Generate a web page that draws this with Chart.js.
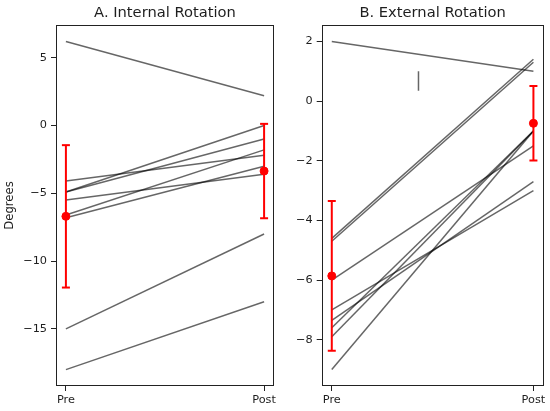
<!DOCTYPE html>
<html lang="en">
<head>
<meta charset="UTF-8">
<title>Internal / External Rotation</title>
<style>
    body { margin: 0; background: #fff; }
    .panel { position: absolute; top: 0; height: 411px; }
    #panelA { left: 0; width: 280px; }
    #panelB { left: 280px; width: 270px; }
</style>
<script src="https://cdn.jsdelivr.net/npm/chart.js"></script>
</head>
<body>
<div class="panel" id="panelA"><canvas id="chartA"></canvas></div>
<div class="panel" id="panelB"><canvas id="chartB"></canvas></div>
<script>
const xLabels = ['Pre', 'Post'];

// A. internal rotation, one value per subject
const internalPre  = [6.2, -4.1, -4.9, -4.9, -5.5, -6.6, -6.8, -15, -18];
const internalPost = [2.2, -2.2, 0.0, -1.0, -3.6, -1.8, -3.0, -8, -13];
const internalMean = [-6.7, -3.36];
const internalSd   = [5.25, 3.48];
const internalTicks = [-15, -10, -5, 0, 5];

// B. external rotation
const externalPre  = [2.0, -4.6, -4.7, -6.0, -7.0, -7.35, -7.6, -7.9, -9.0];
const externalPost = [1.0, 1.4, 1.3, -1.5, -3.0, -2.7, -1.0, -1.0, -1.0];
const externalMean = [-5.86, -0.745];
const externalSd   = [2.51, 1.25];
const externalTicks = [-8, -6, -4, -2, 0, 2];

// small stray vertical mark in panel B
const strayX = [0.43];
const strayY = [0.35, 1.0];

const tickFont = { family: 'DejaVu Sans', size: 11.3 };
const textColor = '#1e1e1e';

// full box around the plot area (matplotlib spines)
const boxPlugin = {
    id: 'box',
    afterDraw(chart) {
        const { ctx, chartArea: a } = chart;
        ctx.save();
        ctx.strokeStyle = '#222';
        ctx.lineWidth = 1;
        ctx.strokeRect(Math.round(a.left) + 0.5, Math.round(a.top) + 0.5,
                       Math.round(a.width) - 1, Math.round(a.height) - 1);
        ctx.restore();
    }
};

function buildDatasets(pre, post, mean, sd) {
    const ds = pre.map((v, i) => ({
        data: [{ x: 0, y: v }, { x: 1, y: post[i] }],
        borderColor: 'rgba(0,0,0,0.6)',
        borderWidth: 1.5,
        pointRadius: 0,
        order: 2
    }));
    mean.forEach((m, i) => {
        ds.push({
            data: [{ x: i, y: m - sd[i] }, { x: i, y: m + sd[i] }],
            borderColor: 'red',
            borderWidth: 2,
            pointStyle: 'line',
            pointRadius: 4,
            pointBorderWidth: 2,
            pointBorderColor: 'red',
            order: 1
        });
    });
    ds.push({
        data: mean.map((m, i) => ({ x: i, y: m })),
        showLine: false,
        pointRadius: 4,
        pointBackgroundColor: 'red',
        pointBorderColor: 'red',
        order: 0
    });
    return ds;
}

function makeChart(id, datasets, title, yTicks, yMin, yMax, yTitle, yWidth, padRight) {
    return new Chart(document.getElementById(id), {
        type: 'line',
        data: { datasets: datasets },
        options: {
            responsive: true,
            maintainAspectRatio: false,
            animation: false,
            layout: { padding: { left: 0, right: padRight, top: 0, bottom: 0 } },
            plugins: {
                legend: { display: false },
                tooltip: { enabled: false },
                title: {
                    display: true,
                    text: title,
                    fullSize: false,
                    color: textColor,
                    font: { family: 'DejaVu Sans', size: 14.7, weight: 'normal' },
                    padding: { top: 4, bottom: 3.36 }
                }
            },
            scales: {
                x: {
                    type: 'linear',
                    min: -0.05,
                    max: 1.05,
                    afterBuildTicks: s => { s.ticks = xLabels.map((_, i) => ({ value: i })); },
                    afterFit: s => { s.height = 25; s.paddingLeft = 0; s.paddingRight = 0; },
                    ticks: { callback: v => xLabels[v], padding: 2, color: textColor, font: tickFont, maxRotation: 0, autoSkip: false },
                    grid: { drawOnChartArea: false, tickLength: 5, color: '#222' },
                    border: { display: false }
                },
                y: {
                    min: yMin,
                    max: yMax,
                    afterBuildTicks: s => { s.ticks = yTicks.map(v => ({ value: v })); },
                    afterFit: s => { s.width = yWidth; s.paddingTop = 0; s.paddingBottom = 0; },
                    ticks: { callback: v => String(v).replace('-', '\u2212'), padding: 4, color: textColor, font: tickFont, autoSkip: false },
                    grid: { drawOnChartArea: false, tickLength: 5, color: '#222' },
                    border: { display: false },
                    title: { display: !!yTitle, text: yTitle, color: textColor, font: { family: 'DejaVu Sans', size: 11.7 }, padding: { top: 3, bottom: 0 } }
                }
            }
        },
        plugins: [boxPlugin]
    });
}

makeChart('chartA',
    buildDatasets(internalPre, internalPost, internalMean, internalSd),
    'A. Internal Rotation', internalTicks, -19.21, 7.41, 'Degrees', 56, 2);

const extDatasets = buildDatasets(externalPre, externalPost, externalMean, externalSd);
extDatasets.push({
    data: strayY.map(y => ({ x: strayX[0], y: y })),
    borderColor: 'rgba(0,0,0,0.6)',
    borderWidth: 1.5,
    pointRadius: 0,
    order: 2
});
makeChart('chartB', extDatasets,
    'B. External Rotation', externalTicks, -9.55, 2.55, '', 41.7, 6.5);
</script>
</body>
</html>
